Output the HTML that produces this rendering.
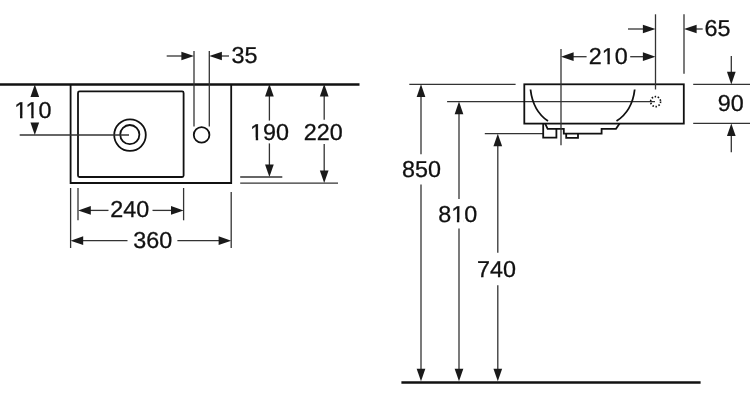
<!DOCTYPE html>
<html><head><meta charset="utf-8">
<style>
html,body{margin:0;padding:0;background:#fff;width:750px;height:409px;overflow:hidden}
svg{display:block;filter:blur(0.3px)}
text{text-rendering:geometricPrecision;font-family:"Liberation Sans",sans-serif;font-size:23px;fill:#111;stroke:#111;stroke-width:0.3px}
.o{stroke:#111;fill:none;stroke-width:1.8}
.ah{fill:#1a1a1a}
</style></head>
<body>
<svg width="750" height="409" viewBox="0 0 750 409">
<line x1="0" y1="84.4" x2="359.5" y2="84.4" stroke="#111" stroke-width="2.5"/>
<path class="o" d="M70.6 84 V183 H231.2 V84"/>
<rect class="o" x="78" y="91.4" width="105.6" height="85.6" rx="1.5"/>
<circle class="o" cx="130" cy="135.1" r="15.8" stroke-width="2"/>
<circle class="o" cx="129.8" cy="134.6" r="9.6" stroke-width="2"/>
<circle class="o" cx="201.6" cy="134.9" r="7.8" stroke-width="1.7"/>
<line x1="194" y1="51" x2="194" y2="126.5" stroke="#333" stroke-width="1.3"/>
<line x1="209.3" y1="51" x2="209.3" y2="126.5" stroke="#333" stroke-width="1.3"/>
<line x1="166.7" y1="56" x2="190" y2="56" stroke="#333" stroke-width="1.3"/>
<polygon class="ah" points="194.00,56.00 181.40,51.65 181.40,60.35"/>
<line x1="213" y1="56" x2="229" y2="56" stroke="#333" stroke-width="1.3"/>
<polygon class="ah" points="209.30,56.00 221.90,60.35 221.90,51.65"/>
<g transform="translate(231.41,63.00) scale(1.015,1)"><text>35</text></g>
<line x1="19.7" y1="135" x2="129" y2="135" stroke="#333" stroke-width="1.3"/>
<polygon class="ah" points="34.80,84.40 30.45,97.00 39.15,97.00"/>
<polygon class="ah" points="34.80,135.00 39.15,122.40 30.45,122.40"/>
<g transform="translate(14.32,118.00) scale(1.015,1)"><text>110</text><rect x="0.50" y="-2.4" width="5.12" height="4.0" fill="#fff"/><rect x="7.98" y="-2.4" width="4.50" height="4.0" fill="#fff"/><rect x="11.58" y="-2.4" width="5.12" height="4.0" fill="#fff"/><rect x="19.06" y="-2.4" width="4.50" height="4.0" fill="#fff"/></g>
<line x1="269.4" y1="88" x2="269.4" y2="120.6" stroke="#333" stroke-width="1.3"/>
<line x1="269.4" y1="143.4" x2="269.4" y2="173" stroke="#333" stroke-width="1.3"/>
<polygon class="ah" points="269.40,84.00 265.05,96.60 273.75,96.60"/>
<polygon class="ah" points="269.40,177.00 273.75,164.40 265.05,164.40"/>
<line x1="240.2" y1="177" x2="282.3" y2="177" stroke="#333" stroke-width="1.3"/>
<g transform="translate(250.06,140.00) scale(1.015,1)"><text>190</text><rect x="0.50" y="-2.4" width="5.12" height="4.0" fill="#fff"/><rect x="7.98" y="-2.4" width="4.50" height="4.0" fill="#fff"/></g>
<line x1="324.2" y1="88" x2="324.2" y2="119.8" stroke="#333" stroke-width="1.3"/>
<line x1="324.2" y1="144" x2="324.2" y2="179" stroke="#333" stroke-width="1.3"/>
<polygon class="ah" points="324.20,84.00 319.85,96.60 328.55,96.60"/>
<polygon class="ah" points="324.20,183.10 328.55,170.50 319.85,170.50"/>
<line x1="240.2" y1="183.1" x2="338" y2="183.1" stroke="#333" stroke-width="1.3"/>
<g transform="translate(303.66,140.00) scale(1.015,1)"><text>220</text></g>
<line x1="70.6" y1="188" x2="70.6" y2="248" stroke="#333" stroke-width="1.3"/>
<line x1="78" y1="188" x2="78" y2="220.3" stroke="#333" stroke-width="1.3"/>
<line x1="183.6" y1="188" x2="183.6" y2="220.3" stroke="#333" stroke-width="1.3"/>
<line x1="231.2" y1="192" x2="231.2" y2="248" stroke="#333" stroke-width="1.3"/>
<line x1="82" y1="210.4" x2="108.5" y2="210.4" stroke="#333" stroke-width="1.3"/>
<line x1="152.5" y1="210.4" x2="180" y2="210.4" stroke="#333" stroke-width="1.3"/>
<polygon class="ah" points="78.20,210.40 90.80,214.75 90.80,206.05"/>
<polygon class="ah" points="183.60,210.40 171.00,206.05 171.00,214.75"/>
<g transform="translate(110.21,217.00) scale(1.015,1)"><text>240</text></g>
<line x1="74" y1="240.7" x2="127.5" y2="240.7" stroke="#333" stroke-width="1.3"/>
<line x1="177.4" y1="240.7" x2="227" y2="240.7" stroke="#333" stroke-width="1.3"/>
<polygon class="ah" points="70.60,240.70 83.20,245.05 83.20,236.35"/>
<polygon class="ah" points="231.20,240.70 218.60,236.35 218.60,245.05"/>
<g transform="translate(133.29,248.00) scale(1.015,1)"><text>360</text></g>
<line x1="401.4" y1="382.5" x2="700.6" y2="382.5" stroke="#111" stroke-width="2.5"/>
<line x1="409.3" y1="84.3" x2="515.6" y2="84.3" stroke="#333" stroke-width="1.3"/>
<line x1="421" y1="90" x2="421" y2="154.2" stroke="#333" stroke-width="1.3"/>
<line x1="421" y1="184.6" x2="421" y2="376" stroke="#333" stroke-width="1.3"/>
<polygon class="ah" points="421.00,84.30 416.65,96.90 425.35,96.90"/>
<polygon class="ah" points="421.00,381.30 425.35,368.70 416.65,368.70"/>
<g transform="translate(401.99,177.00) scale(1.015,1)"><text>850</text></g>
<line x1="447.1" y1="101.6" x2="655" y2="101.6" stroke="#333" stroke-width="1.3"/>
<line x1="459" y1="105.6" x2="459" y2="198.9" stroke="#333" stroke-width="1.3"/>
<line x1="459" y1="228.6" x2="459" y2="376" stroke="#333" stroke-width="1.3"/>
<polygon class="ah" points="459.00,101.60 454.65,114.20 463.35,114.20"/>
<polygon class="ah" points="459.00,381.30 463.35,368.70 454.65,368.70"/>
<g transform="translate(438.19,222.00) scale(1.015,1)"><text>810</text><rect x="13.29" y="-2.4" width="5.12" height="4.0" fill="#fff"/><rect x="20.77" y="-2.4" width="4.50" height="4.0" fill="#fff"/></g>
<line x1="484.8" y1="133.7" x2="543.2" y2="133.7" stroke="#333" stroke-width="1.3"/>
<line x1="497.8" y1="138" x2="497.8" y2="252.7" stroke="#333" stroke-width="1.3"/>
<line x1="497.8" y1="285.2" x2="497.8" y2="376" stroke="#333" stroke-width="1.3"/>
<polygon class="ah" points="497.80,133.70 493.45,146.30 502.15,146.30"/>
<polygon class="ah" points="497.80,381.30 502.15,368.70 493.45,368.70"/>
<g transform="translate(477.06,277.00) scale(1.015,1)"><text>740</text></g>
<rect class="o" x="524.3" y="84.3" width="159.5" height="39.3"/>
<path class="o" d="M530.5 89.5 Q533 111 548 121.1"/>
<path class="o" d="M634.7 89.5 Q632.2 111 616.5 121.1"/>
<path class="o" d="M545.2 123.6 L547.6 128.8 H563.8 V133.6 H601.6 V128.8 H616 L619.6 123.6"/>
<path class="o" d="M543.2 123.6 V137.6 H556.4 V128.8"/>
<path class="o" d="M566.2 133.6 V137.8 H578 V133.6"/>
<circle cx="655.6" cy="101.6" r="5" fill="none" stroke="#111" stroke-width="1.6" stroke-dasharray="1.5 1.64"/>
<line x1="561" y1="49" x2="561" y2="145.3" stroke="#333" stroke-width="1.3"/>
<line x1="565" y1="56.7" x2="586.6" y2="56.7" stroke="#333" stroke-width="1.3"/>
<line x1="630.2" y1="56.7" x2="651.5" y2="56.7" stroke="#333" stroke-width="1.3"/>
<polygon class="ah" points="561.00,56.70 573.60,61.05 573.60,52.35"/>
<polygon class="ah" points="655.50,56.70 642.90,52.35 642.90,61.05"/>
<g transform="translate(588.71,64.00) scale(1.015,1)"><text>210</text><rect x="13.29" y="-2.4" width="5.12" height="4.0" fill="#fff"/><rect x="20.77" y="-2.4" width="4.50" height="4.0" fill="#fff"/></g>
<line x1="655.5" y1="14.3" x2="655.5" y2="89.5" stroke="#333" stroke-width="1.3"/>
<line x1="684" y1="14.3" x2="684" y2="73.7" stroke="#333" stroke-width="1.3"/>
<line x1="628" y1="29" x2="651.5" y2="29" stroke="#333" stroke-width="1.3"/>
<polygon class="ah" points="655.50,29.00 642.90,24.65 642.90,33.35"/>
<line x1="688" y1="29" x2="702.7" y2="29" stroke="#333" stroke-width="1.3"/>
<polygon class="ah" points="684.00,29.00 696.60,33.35 696.60,24.65"/>
<g transform="translate(704.58,36.00) scale(1.015,1)"><text>65</text></g>
<line x1="693.2" y1="84.4" x2="750" y2="84.4" stroke="#333" stroke-width="1.3"/>
<line x1="693.2" y1="123.4" x2="750" y2="123.4" stroke="#333" stroke-width="1.3"/>
<line x1="731.3" y1="56" x2="731.3" y2="80" stroke="#333" stroke-width="1.3"/>
<polygon class="ah" points="731.30,84.40 735.65,71.80 726.95,71.80"/>
<line x1="731.3" y1="127.5" x2="731.3" y2="152.2" stroke="#333" stroke-width="1.3"/>
<polygon class="ah" points="731.30,123.40 726.95,136.00 735.65,136.00"/>
<g transform="translate(717.78,111.00) scale(1.015,1)"><text>90</text></g>
</svg>
</body></html>
